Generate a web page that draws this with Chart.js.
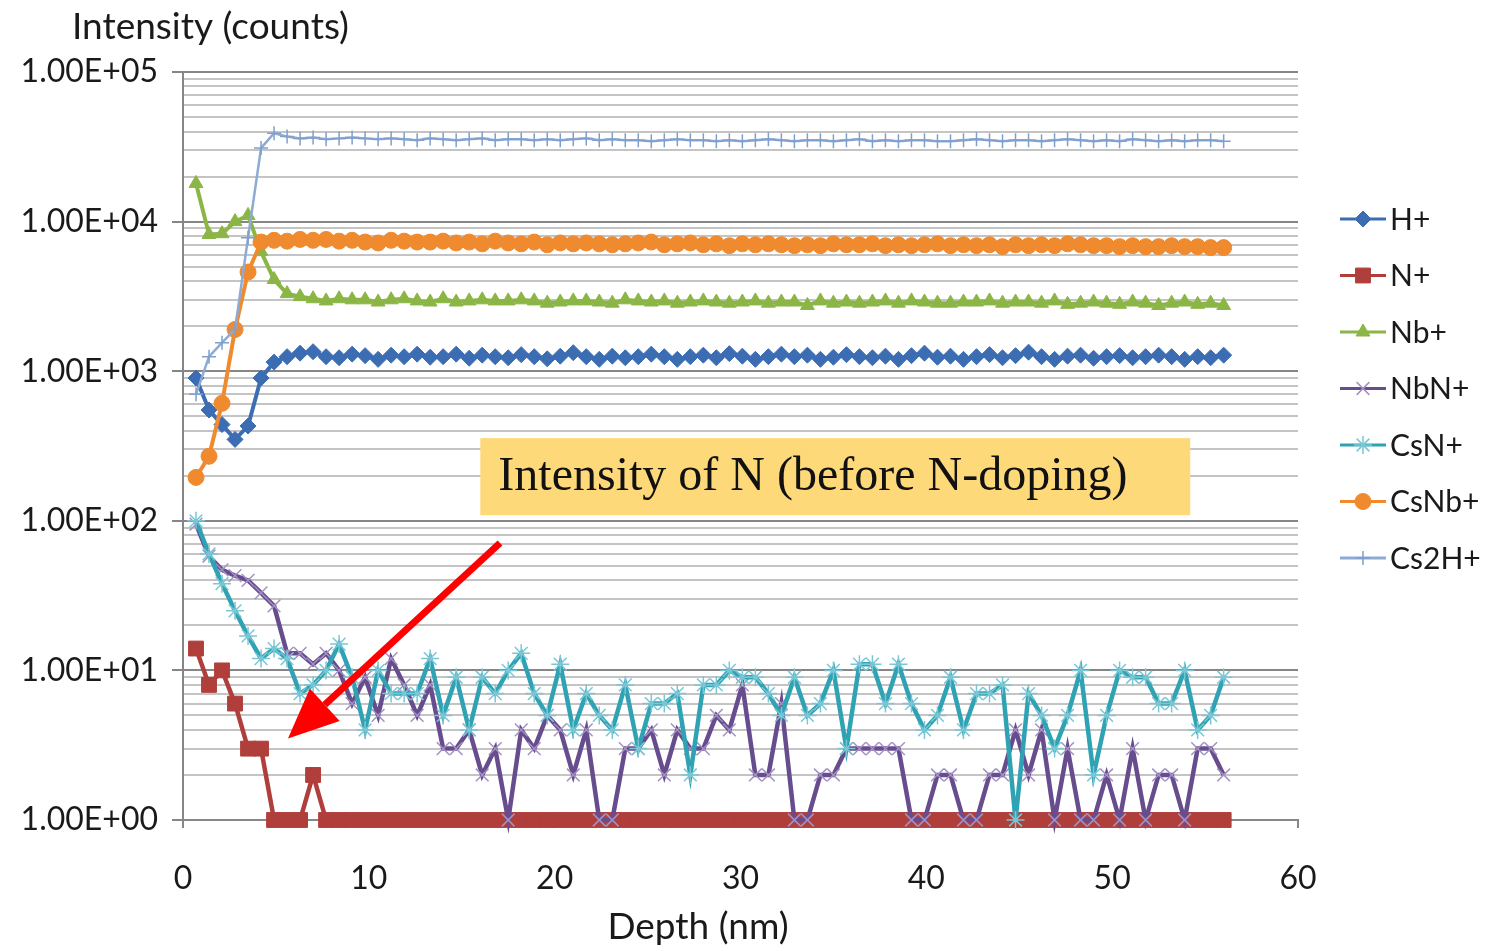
<!DOCTYPE html>
<html>
<head>
<meta charset="utf-8">
<script src="https://cdn.jsdelivr.net/npm/chart.js@4.4.1/dist/chart.umd.min.js"></script>
<style>
  html, body { margin: 0; padding: 0; background: #fff; }
  #wrap { width: 1490px; height: 951px; }
</style>
</head>
<body>
<div id="wrap"><canvas id="c" width="1490" height="951"></canvas></div>
<script>
// depth of each measurement (nm)
const depth = [0.7, 1.4, 2.1, 2.8, 3.5, 4.2, 4.9, 5.6, 6.3, 7.0,
  7.7, 8.4, 9.1, 9.8, 10.5, 11.2, 11.9, 12.6, 13.3, 14.0,
  14.7, 15.4, 16.1, 16.8, 17.5, 18.2, 18.9, 19.6, 20.3, 21.0,
  21.7, 22.4, 23.1, 23.8, 24.5, 25.2, 25.9, 26.6, 27.3, 28.0,
  28.7, 29.4, 30.1, 30.8, 31.5, 32.2, 32.9, 33.6, 34.3, 35.0,
  35.7, 36.4, 37.1, 37.8, 38.5, 39.2, 39.9, 40.6, 41.3, 42.0,
  42.7, 43.4, 44.1, 44.8, 45.5, 46.2, 46.9, 47.6, 48.3, 49.0,
  49.7, 50.4, 51.1, 51.8, 52.5, 53.2, 53.9, 54.6, 55.3, 56.0];

const hPlus = [900, 550, 440, 350, 430, 900, 1150, 1250, 1320, 1350,
  1250, 1230, 1300, 1270, 1200, 1280, 1250, 1300, 1240, 1250,
  1300, 1220, 1280, 1250, 1230, 1290, 1250, 1210, 1260, 1330,
  1250, 1200, 1260, 1230, 1250, 1300, 1250, 1200, 1250, 1280,
  1230, 1310, 1260, 1200, 1250, 1300, 1250, 1280, 1200, 1240,
  1290, 1250, 1230, 1260, 1200, 1270, 1320, 1240, 1260, 1200,
  1250, 1290, 1230, 1270, 1340, 1250, 1200, 1260, 1280, 1220,
  1250, 1270, 1230, 1250, 1280, 1250, 1200, 1250, 1230, 1280];

const nPlus = [14, 8, 10, 6, 3, 3, 1, 1, 1, 2,
  1, 1, 1, 1, 1, 1, 1, 1, 1, 1,
  1, 1, 1, 1, 1, 1, 1, 1, 1, 1,
  1, 1, 1, 1, 1, 1, 1, 1, 1, 1,
  1, 1, 1, 1, 1, 1, 1, 1, 1, 1,
  1, 1, 1, 1, 1, 1, 1, 1, 1, 1,
  1, 1, 1, 1, 1, 1, 1, 1, 1, 1,
  1, 1, 1, 1, 1, 1, 1, 1, 1, 1];

const nbPlus = [18000, 8200, 8300, 10000, 11000, 6300, 4100, 3300, 3150, 3050,
  2950, 3050, 3000, 3000, 2900, 3000, 3050, 2950, 2900, 3050,
  2900, 2950, 3000, 2950, 2950, 3000, 2950, 2850, 2900, 2950,
  2950, 2900, 2850, 3000, 2950, 2900, 2950, 2850, 2900, 2950,
  2900, 2850, 2900, 2950, 2850, 2900, 2900, 2750, 2950, 2850,
  2900, 2850, 2900, 2950, 2850, 2950, 2900, 2850, 2850, 2900,
  2900, 2950, 2850, 2900, 2900, 2850, 2950, 2800, 2850, 2900,
  2850, 2800, 2900, 2850, 2750, 2850, 2900, 2800, 2850, 2750];

const nbnPlus = [95, 58, 47, 43, 40, 33, 27, 13, 13, 11,
  13, 10, 6, 9, 5, 12, 8, 5, 8, 3,
  3, 4, 2, 3, 1, 4, 3, 5, 4, 2,
  4, 1, 1, 3, 3, 4, 2, 4, 3, 3,
  5, 4, 8, 2, 2, 6, 1, 1, 2, 2,
  3, 3, 3, 3, 3, 1, 1, 2, 2, 1,
  1, 2, 2, 4, 2, 4, 1, 3, 1, 1,
  2, 1, 3, 1, 2, 2, 1, 3, 3, 2];

const csnPlus = [100, 60, 38, 25, 17, 12, 14, 12, 7, 8,
  10, 15, 9, 4, 10, 7, 7, 7, 12, 5,
  9, 4, 9, 7, 10, 13, 7, 5, 11, 4,
  7, 5, 4, 8, 3, 6, 6, 7, 2, 8,
  8, 10, 9, 9, 7, 5, 9, 5, 6, 10,
  3, 11, 11, 6, 11, 6, 4, 5, 9, 4,
  7, 7, 8, 1, 7, 5, 3, 5, 10, 2,
  5, 10, 9, 9, 6, 6, 10, 4, 5, 9];

const csnbPlus = [195, 270, 610, 1900, 4600, 7300, 7500, 7400, 7600, 7500,
  7600, 7400, 7500, 7300, 7200, 7500, 7400, 7300, 7300, 7400,
  7200, 7300, 7100, 7400, 7200, 7100, 7300, 7000, 7200, 7100,
  7200, 7100, 7000, 7100, 7200, 7300, 7000, 7100, 7200, 7000,
  7100, 6900, 7100, 7000, 7100, 7000, 6900, 7000, 6900, 7100,
  7000, 7000, 7100, 6900, 7000, 6900, 7000, 7100, 6900, 7000,
  6900, 7000, 6800, 7000, 6900, 7000, 6900, 7100, 7000, 6900,
  6900, 6800, 6900, 6800, 6800, 6900, 6800, 6800, 6700, 6700];

const cs2hPlus = [700, 1250, 1550, 1900, 7800, 31000, 39000, 37000, 36000, 36500,
  35500, 36000, 36500, 36000, 35500, 36000, 35500, 35000, 36000, 35500,
  35000, 35500, 36000, 35000, 35500, 35500, 35000, 35500, 35000, 35500,
  36000, 35000, 35500, 35000, 35000, 34500, 35000, 35500, 35000, 35000,
  34500, 35000, 34500, 35000, 35500, 35000, 34500, 35000, 35000, 34500,
  35000, 35500, 34500, 35000, 34500, 35000, 35000, 34500, 34500, 35000,
  35500, 35000, 34500, 35000, 35000, 34500, 35000, 35500, 35000, 34500,
  35000, 34500, 35500, 35000, 34500, 35000, 34500, 35000, 35000, 34500];

const seriesNames = ['H+', 'N+', 'Nb+', 'NbN+', 'CsN+', 'CsNb+', 'Cs2H+'];
const xTicks = [0, 10, 20, 30, 40, 50, 60];
const decades = [1, 10, 100, 1000, 10000, 100000];
const minorSteps = [1, 2, 3, 4, 5, 6, 7, 8, 9];

const FONT = 'Lato, "Open Sans", sans-serif';

// grid values for the log axis (1..9 x each decade)
const yGrid = [];
decades.forEach(d => {
  if (d === 100000) { yGrid.push(d); return; }
  minorSteps.forEach(m => yGrid.push(m * d));
});

function isMajor(v) {
  const l = Math.log10(v);
  return Math.abs(l - Math.round(l)) < 1e-9;
}
function sci(v) {
  const e = Math.round(Math.log10(v));
  return '1.00E+' + String(e).padStart(2, '0');
}
function pts(vals) {
  return depth.map((d, i) => ({ x: d, y: vals[i] }));
}

const looks = [
  { line: '#3c6db3', mark: '#3c6db3', style: 'rectRot', r: 8, lw: 4, pbw: 1 },
  { line: '#b03f3b', mark: '#b03f3b', style: 'rect', r: 10.5, lw: 4.5, pbw: 1 },
  { line: '#8bb646', mark: '#8bb646', style: 'triangle', r: 8, lw: 4, pbw: 1 },
  { line: '#674c8e', mark: '#a391c4', style: 'crossRot', r: 9, lw: 4.5, pbw: 1.5 },
  { line: '#2fa2b3', mark: '#79c7d5', style: 'star', r: 9, lw: 4.5, pbw: 1.5 },
  { line: '#ef8a2f', mark: '#ef8a2f', style: 'circle', r: 8, lw: 4, pbw: 1 },
  { line: '#8eabd5', mark: '#7f9fcc', style: 'cross', r: 7, lw: 2.5, pbw: 1.5 }
];
const allSeries = [hPlus, nPlus, nbPlus, nbnPlus, csnPlus, csnbPlus, cs2hPlus];

const datasets = allSeries.map((vals, i) => ({
  label: seriesNames[i],
  data: pts(vals),
  borderColor: looks[i].line,
  backgroundColor: looks[i].mark,
  borderWidth: looks[i].lw,
  pointStyle: looks[i].style,
  pointRadius: looks[i].r,
  pointBorderColor: looks[i].mark,
  pointBackgroundColor: looks[i].mark,
  pointBorderWidth: looks[i].pbw,
  tension: 0,
  clip: false,
  order: -i
}));

// callout text and arrow, given in data units
const noteText = 'Intensity of N (before N-doping)';
const noteBox = { x0: 16.0, x1: 54.2, yTop: 357, yBottom: 109 };
const arrow = { fromX: 17.06, fromY: 71, toX: 5.65, toY: 3.5 };

const decorations = {
  id: 'decorations',
  afterDatasetsDraw(chart) {
    const { ctx, scales: { x, y } } = chart;
    ctx.save();
    const bx0 = x.getPixelForValue(noteBox.x0), bx1 = x.getPixelForValue(noteBox.x1);
    const by0 = y.getPixelForValue(noteBox.yTop), by1 = y.getPixelForValue(noteBox.yBottom);
    ctx.fillStyle = '#fed97a';
    ctx.fillRect(bx0, by0, bx1 - bx0, by1 - by0);
    ctx.fillStyle = '#111';
    ctx.font = '48px "Liberation Serif", "Times New Roman", serif';
    ctx.textBaseline = 'middle';
    ctx.textAlign = 'left';
    ctx.fillText(noteText, bx0 + 18, (by0 + by1) / 2 + 1);

    const ax0 = x.getPixelForValue(arrow.fromX), ay0 = y.getPixelForValue(arrow.fromY);
    const ax1 = x.getPixelForValue(arrow.toX), ay1 = y.getPixelForValue(arrow.toY);
    const ang = Math.atan2(ay1 - ay0, ax1 - ax0);
    const headLen = 50, headHalf = 22;
    const bxh = ax1 - Math.cos(ang) * headLen, byh = ay1 - Math.sin(ang) * headLen;
    ctx.strokeStyle = '#ff0000';
    ctx.lineWidth = 7;
    ctx.lineCap = 'butt';
    ctx.beginPath();
    ctx.moveTo(ax0, ay0);
    ctx.lineTo(bxh, byh);
    ctx.stroke();
    ctx.fillStyle = '#ff0000';
    ctx.beginPath();
    ctx.moveTo(ax1, ay1);
    ctx.lineTo(bxh + Math.sin(ang) * headHalf, byh - Math.cos(ang) * headHalf);
    ctx.lineTo(bxh - Math.sin(ang) * headHalf, byh + Math.cos(ang) * headHalf);
    ctx.closePath();
    ctx.fill();
    ctx.restore();
  },
  afterDraw(chart) {
    const { ctx } = chart;
    ctx.save();
    // axis captions
    ctx.fillStyle = '#1a1a1a';
    ctx.font = '37px ' + FONT;
    ctx.textBaseline = 'middle';
    ctx.textAlign = 'left';
    ctx.fillText('Intensity (counts)', 72, 27);
    ctx.textAlign = 'center';
    ctx.fillText('Depth (nm)', 698, 927);

    // legend
    const lx = 1340, ly = 219, step = 56.5;
    ctx.textAlign = 'left';
    chart.data.datasets.forEach((ds, i) => {
      const yy = ly + i * step;
      ctx.strokeStyle = ds.borderColor;
      ctx.lineWidth = 3;
      ctx.beginPath();
      ctx.moveTo(lx, yy);
      ctx.lineTo(lx + 46, yy);
      ctx.stroke();
      ctx.fillStyle = ds.pointBackgroundColor;
      ctx.strokeStyle = ds.pointBorderColor;
      ctx.lineWidth = ds.pointBorderWidth;
      Chart.helpers.drawPoint(ctx, {
        pointStyle: ds.pointStyle, rotation: 0,
        radius: ds.pointRadius, borderWidth: ds.pointBorderWidth
      }, lx + 23, yy);
      ctx.fillStyle = '#1a1a1a';
      ctx.font = '30px ' + FONT;
      ctx.textBaseline = 'middle';
      ctx.fillText(ds.label, lx + 50, yy + 1);
    });
    ctx.restore();
  }
};

new Chart(document.getElementById('c'), {
  type: 'line',
  data: { datasets },
  options: {
    responsive: false,
    animation: false,
    events: [],
    layout: { padding: { left: 0, top: 72, right: 192, bottom: 0 } },
    plugins: { legend: { display: false }, tooltip: { enabled: false }, title: { display: false } },
    scales: {
      x: {
        type: 'linear', min: 0, max: 60,
        afterBuildTicks: s => { s.ticks = xTicks.map(v => ({ value: v })); },
        afterFit: s => { s.height = 131; },
        ticks: { font: { family: FONT, size: 32 }, color: '#1a1a1a', padding: 31, maxRotation: 0 },
        grid: { drawOnChartArea: false, tickLength: 8, color: '#878787', lineWidth: 2 },
        border: { color: '#878787', width: 2 }
      },
      y: {
        type: 'logarithmic', min: 1, max: 100000,
        afterBuildTicks: s => { s.ticks = yGrid.map(v => ({ value: v })); },
        afterFit: s => { s.width = 183; },
        ticks: {
          autoSkip: false, font: { family: FONT, size: 32 }, color: '#1a1a1a', padding: 14,
          callback: v => isMajor(v) ? sci(v) : ''
        },
        grid: {
          color: c => isMajor(c.tick.value) ? '#868686' : '#c4c4c4',
          lineWidth: 2,
          tickLength: 11,
          tickColor: c => isMajor(c.tick.value) ? '#868686' : 'rgba(0,0,0,0)'
        },
        border: { color: '#868686', width: 2 }
      }
    }
  },
  plugins: [decorations]
});
</script>
</body>
</html>
